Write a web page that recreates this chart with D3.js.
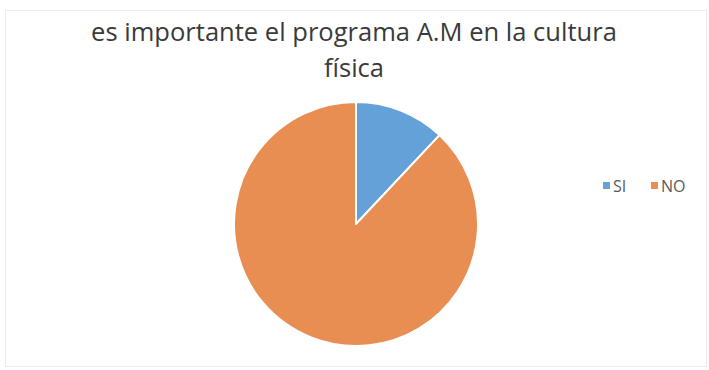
<!DOCTYPE html>
<html>
<head>
<meta charset="utf-8">
<script src="https://cdn.jsdelivr.net/npm/d3@7"></script>
<style>
  html, body { margin: 0; padding: 0; background: #fff; }
  svg { display: block; }
</style>
</head>
<body>
<svg id="chart" width="709" height="370"></svg>
<script>
// Survey answers (percent of respondents)
const categories = ["SI", "NO"];
const values = [12, 88];
const colors = ["#63a1d8", "#e98e52"];
const titleLines = ["es importante el programa A.M en la cultura", "física"];

const svg = d3.select("#chart");
const W = 709, H = 370;
const font = "'Open Sans', 'Noto Sans', sans-serif";

// chart area frame
svg.append("rect")
  .attr("x", 5.5).attr("y", 10.5)
  .attr("width", W - 8).attr("height", H - 14)
  .attr("fill", "#fff")
  .attr("stroke", "#ececec")
  .attr("stroke-width", 1);

// title, centred over the plot
const titleCx = 354;
const t1 = svg.append("text")
  .attr("x", titleCx).attr("y", 41)
  .attr("text-anchor", "middle")
  .attr("font-family", font)
  .attr("font-size", 24)
  .attr("fill", "#3a3a3a")
  .text(titleLines[0]);
// fit the first line to its width, reuse that size for the second
const targetW = 526;
const fs = 24 * targetW / t1.node().getComputedTextLength();
t1.attr("font-size", fs);
svg.append("text")
  .attr("x", titleCx).attr("y", 77)
  .attr("text-anchor", "middle")
  .attr("font-family", font)
  .attr("font-size", fs)
  .attr("fill", "#3a3a3a")
  .text(titleLines[1]);

// pie
const cx = 356, cy = 224, r = 122;
const color = d3.scaleOrdinal().domain(categories).range(colors);
const pie = d3.pie().sort(null).value((d, i) => values[i]);
const arc = d3.arc().innerRadius(0).outerRadius(r);

svg.append("g")
  .attr("transform", `translate(${cx},${cy})`)
  .selectAll("path")
  .data(pie(categories))
  .join("path")
  .attr("d", arc)
  .attr("fill", d => color(d.data))
  .attr("stroke", "#ffffff")
  .attr("stroke-width", 2)
  .attr("stroke-linejoin", "round");

// legend
const legendX = [603, 651];
const lg = svg.append("g")
  .selectAll("g")
  .data(categories)
  .join("g")
  .attr("transform", (d, i) => `translate(${legendX[i]},182)`);
lg.append("rect")
  .attr("width", 7).attr("height", 7)
  .attr("fill", d => color(d));
lg.append("text")
  .attr("x", 10).attr("y", 9.5)
  .attr("font-family", font)
  .attr("font-size", 16)
  .attr("fill", "#595959")
  .text(d => d);
</script>
</body>
</html>
